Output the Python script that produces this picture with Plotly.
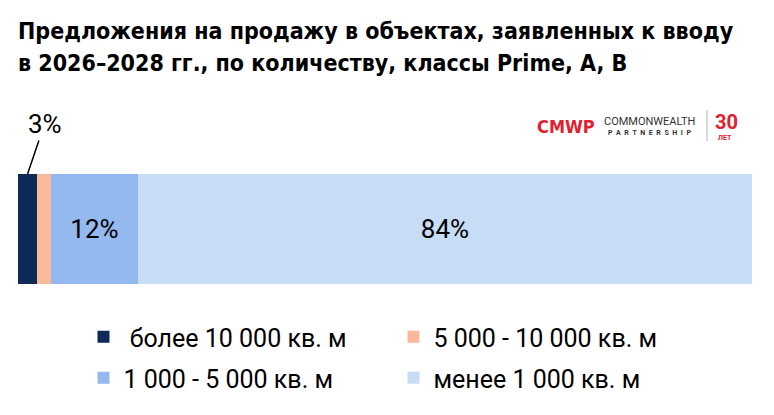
import plotly.graph_objects as go

# ---- data ----
categories = ["более 10 000 кв. м", "5 000 - 10 000 кв. м", "1 000 - 5 000 кв. м", "менее 1 000 кв. м"]
shares = [2.6, 1.9, 11.9, 83.6]
colors = ["#0e2a57", "#fab99a", "#93b9ef", "#c7dcf5"]
show_inside = [False, False, True, True]
legend_ids = ["legend", "legend", "legend2", "legend2"]
title_lines = ["Предложения на продажу в объектах, заявленных к вводу",
               "в 2026–2028 гг., по количеству, классы Prime, A, B"]

W, H = 774, 415
ML, MR, MT, MB = 18, 22, 174, 131
PH = H - MT - MB
PW = W - ML - MR

def py(p):  # pixel y -> paper y
    return (H - MB - p) / PH

def px(p):  # pixel x -> paper x
    return (p - ML) / PW

FONT = "Roboto, 'Noto Sans', sans-serif"
fig = go.Figure()
for i, (name, v) in enumerate(zip(categories, shares)):
    fig.add_trace(go.Bar(
        x=[v], y=[0], orientation="h", name=("\u00a0" + name) if i == 0 else name,
        marker=dict(color=colors[i], line=dict(width=0)),
        text=[f"{v:.0f}%" if show_inside[i] else ""],
        textposition="inside", insidetextanchor="middle",
        textfont=dict(size=26, color="#000000", family=FONT),
        width=1, legend=legend_ids[i], hoverinfo="skip",
    ))

annotations = []
# outside label for the first small segment
annotations.append(dict(
    x=shares[0] / 2, y=0.5, xref="x", yref="y",
    text=f"{shares[0]:.0f}%", showarrow=True, arrowhead=0, arrowwidth=1.5,
    arrowcolor="#000000", ax=17, ay=-50, standoff=0,
    font=dict(size=26, color="#000000", family=FONT),
))
# title
TFONT = "'DejaVu Sans Condensed', Roboto, sans-serif"
for i, line in enumerate(title_lines):
    annotations.append(dict(
        x=px(16), y=py(31 + 32 * i), xref="paper", yref="paper",
        xanchor="left", yanchor="middle", showarrow=False, text=f"<b>{line}</b>",
        font=dict(size=23, color="#000000", family=TFONT),
    ))
# logo
RED = "#e2202f"
logo = [
    dict(x=px(566), y=py(126), text="<b>CMWP</b>", font=dict(size=18, color=RED, family=TFONT)),
    dict(x=px(649.5), y=py(121.5), text="COMMONWEALTH", font=dict(size=11, color="#333333", family=FONT)),
    dict(x=px(649.5), y=py(132.5), text="<b>" + "\u2002".join("PARTNERSHIP") + "</b>",
         font=dict(size=7, color="#333333", family=FONT)),
    dict(x=px(726.5), y=py(121.5), text="<b>30</b>", font=dict(size=20, color=RED, family=FONT)),
    dict(x=px(725), y=py(137.5), text="<b>ЛЕТ</b>", font=dict(size=7, color=RED, family=FONT)),
]
for a in logo:
    a.update(xref="paper", yref="paper", showarrow=False, xanchor="center",
             yanchor="middle", borderpad=0)
annotations += logo

fig.update_layout(
    width=W, height=H, margin=dict(l=ML, r=MR, t=MT, b=MB),
    plot_bgcolor="white", paper_bgcolor="white",
    barmode="stack", bargap=0,
    xaxis=dict(range=[0, sum(shares)], visible=False, fixedrange=True),
    yaxis=dict(range=[-0.5, 0.5], visible=False, fixedrange=True),
    showlegend=True,
    legend=dict(orientation="h", xref="container", yref="container", traceorder="normal",
                x=83.5 / W, y=1 - 337 / H, xanchor="left", yanchor="middle",
                entrywidth=265, entrywidthmode="pixels",
                font=dict(size=25, color="#000000", family=FONT), bgcolor="rgba(0,0,0,0)"),
    legend2=dict(orientation="h", xref="container", yref="container", traceorder="normal",
                 x=83.5 / W, y=1 - 378 / H, xanchor="left", yanchor="middle",
                 entrywidth=265, entrywidthmode="pixels",
                 font=dict(size=25, color="#000000", family=FONT), bgcolor="rgba(0,0,0,0)"),
    annotations=annotations,
    shapes=[dict(type="line", xref="paper", yref="paper", x0=px(707), x1=px(707),
                 y0=py(110), y1=py(141), line=dict(color="#b0b0b0", width=1))],
)

fig.write_html("out.html", config={"displayModeBar": False},
               post_script="document.body.style.margin='0';document.body.style.padding='0';")
